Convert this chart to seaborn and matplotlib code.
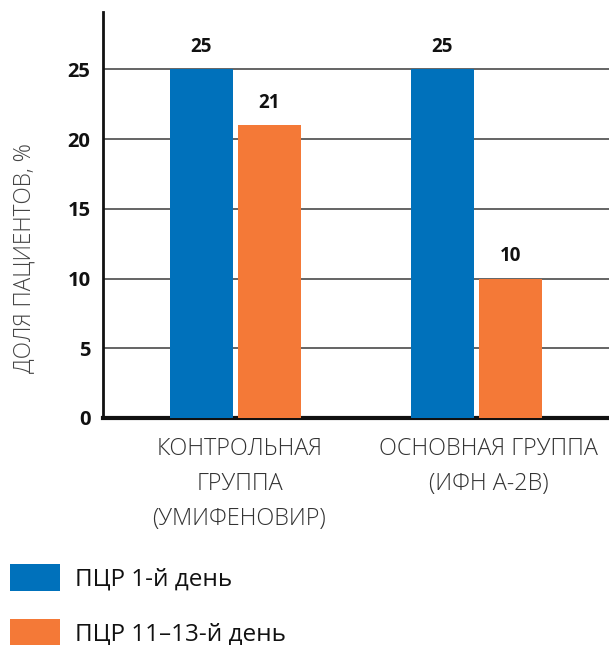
import matplotlib
matplotlib.use("Agg")
import matplotlib.pyplot as plt
import matplotlib.transforms as mtransforms
import seaborn as sns
import pandas as pd

# Data
groups = ["КОНТРОЛЬНАЯ\nГРУППА\n(УМИФЕНОВИР)", "ОСНОВНАЯ ГРУППА\n(ИФН А-2B)"]
series = ["ПЦР 1-й день", "ПЦР 11–13-й день"]
day1 = [25, 25]
day11_13 = [21, 10]
yticks = [0, 5, 10, 15, 20, 25]
colors = ["#0071BB", "#F47937"]

df = pd.DataFrame({
    "group": groups * 2,
    "series": [series[0]] * 2 + [series[1]] * 2,
    "value": day1 + day11_13,
})

sns.set_style("white")
plt.rcParams["font.family"] = ["Open Sans", "DejaVu Sans"]

fig = plt.figure(figsize=(6.09, 6.45), dpi=100)
ax = fig.add_axes([0.169, 0.352, 0.831, 0.629])

sns.barplot(data=df, x="group", y="value", hue="series", palette=colors,
            width=0.564, gap=0.074, saturation=1, linewidth=0, ax=ax, zorder=3)

handles, labels = ax.get_legend_handles_labels()
ax.get_legend().remove()

ax.set_xlim(-0.55, 1.55)
ax.set_ylim(0, 29.1)
ax.set_yticks(yticks)
for y in yticks[1:]:
    ax.axhline(y, color="#3a3a3a", lw=1.1, zorder=1)

ax.tick_params(axis="both", length=0)
ax.tick_params(axis="y", pad=9)
ax.set_yticklabels([str(t) for t in yticks], fontsize=14.5, fontweight="bold", color="#111111")
ax.set_xticklabels(groups, fontsize=16.8, color="#333333", linespacing=1.6,
                   fontweight="light")
ax.tick_params(axis="x", pad=14)
# nudge the category labels slightly to the right
for lbl, dx in zip(ax.get_xticklabels(), [4, 12]):
    lbl.set_transform(lbl.get_transform() +
                      mtransforms.ScaledTranslation(dx / 100, 0, fig.dpi_scale_trans))
ax.set_xlabel("")
ax.set_ylabel("")

for side in ["top", "right"]:
    ax.spines[side].set_visible(False)
ax.spines["left"].set_linewidth(2)
ax.spines["left"].set_color("#111111")
ax.spines["bottom"].set_linewidth(3)
ax.spines["bottom"].set_color("#111111")

# Value labels above bars
for container in ax.containers:
    ax.bar_label(container, labels=[f"{v:g}" for v in container.datavalues],
                 padding=9, fontsize=13.5, fontweight="bold", color="#111111")

fig.text(0.041, 0.60, "ДОЛЯ ПАЦИЕНТОВ, %", rotation=90, ha="center", va="center",
         fontsize=16.3, color="#444444", fontweight="light")

fig.legend(handles, labels, loc="upper left", bbox_to_anchor=(0.016, 0.126),
           frameon=False, fontsize=17.5, handlelength=2.05, handleheight=1.32,
           handletextpad=0.62, labelspacing=1.15, borderaxespad=0, borderpad=0,
           labelcolor="#111111")

fig.savefig("out.png", dpi=100)
